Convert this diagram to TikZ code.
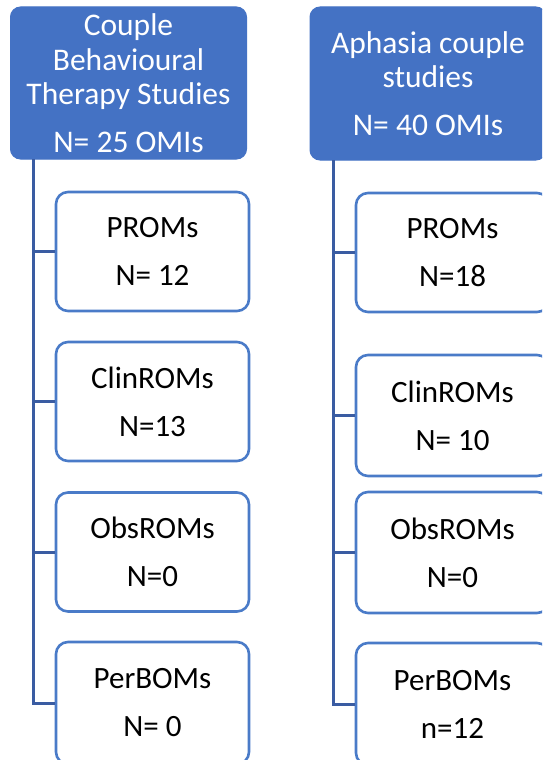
\documentclass[tikz,border=0pt]{standalone}
\usepackage{fontspec}
\setmainfont{Carlito}
\definecolor{hdrblue}{RGB}{68,114,196}
\definecolor{boxblue}{RGB}{74,123,200}
\definecolor{linkblue}{RGB}{58,92,162}
\tikzset{
  hdr/.style={fill=hdrblue, draw=hdrblue, line width=1pt, rounded corners=10pt,
    text=white, align=center, inner sep=0pt, minimum width=236pt, minimum height=152pt,
    font=\fontsize{31.5}{34.5}\selectfont},
  cat/.style={fill=white, draw=boxblue, line width=2.6pt, rounded corners=12pt,
    text=black, align=center, inner sep=0pt, minimum width=193pt, minimum height=119pt,
    font=\fontsize{31}{48}\selectfont},
  link/.style={draw=linkblue, line width=3pt}
}
\begin{document}
\begin{tikzpicture}[x=1pt,y=-1pt]
\useasboundingbox (0,0) rectangle (542,760);
\clip (0,0) rectangle (542,760);
% left column
\node[hdr] (h1) at (128.5,83) {Couple\\Behavioural\\Therapy Studies\\[13pt]N= 25 OMIs};
\node[cat] (a1) at (152.5,251.5) {PROMs\\N= 12};
\node[cat] (a2) at (152.5,401.5) {ClinROMs\\N=13};
\node[cat] (a3) at (152.5,552) {ObsROMs\\N=0};
\node[cat, minimum height=122pt] (a4) at (152.5,703) {PerBOMs\\N= 0};
\coordinate (ta) at (33,159);
\draw[link] (ta) |- (a4.west);
\draw[link] (ta |- a1.west) -- (a1.west);
\draw[link] (ta |- a2.west) -- (a2.west);
\draw[link] (ta |- a3.west) -- (a3.west);
% right column
\node[hdr, minimum height=153pt] (h2) at (428,83.5) {Aphasia couple\\studies\\[13pt]N= 40 OMIs};
\node[cat] (b1) at (452.5,252.5) {PROMs\\N=18};
\node[cat, minimum height=121pt] (b2) at (452.5,415.5) {ClinROMs\\N= 10};
\node[cat, minimum height=121pt] (b3) at (452.5,552.5) {ObsROMs\\N=0};
\node[cat, minimum height=122pt] (b4) at (452.5,704) {PerBOMs\\n=12};
\coordinate (tb) at (333,160);
\draw[link] (tb) |- (b4.west);
\draw[link] (tb |- b1.west) -- (b1.west);
\draw[link] (tb |- b2.west) -- (b2.west);
\draw[link] (tb |- b3.west) -- (b3.west);
\end{tikzpicture}
\end{document}
